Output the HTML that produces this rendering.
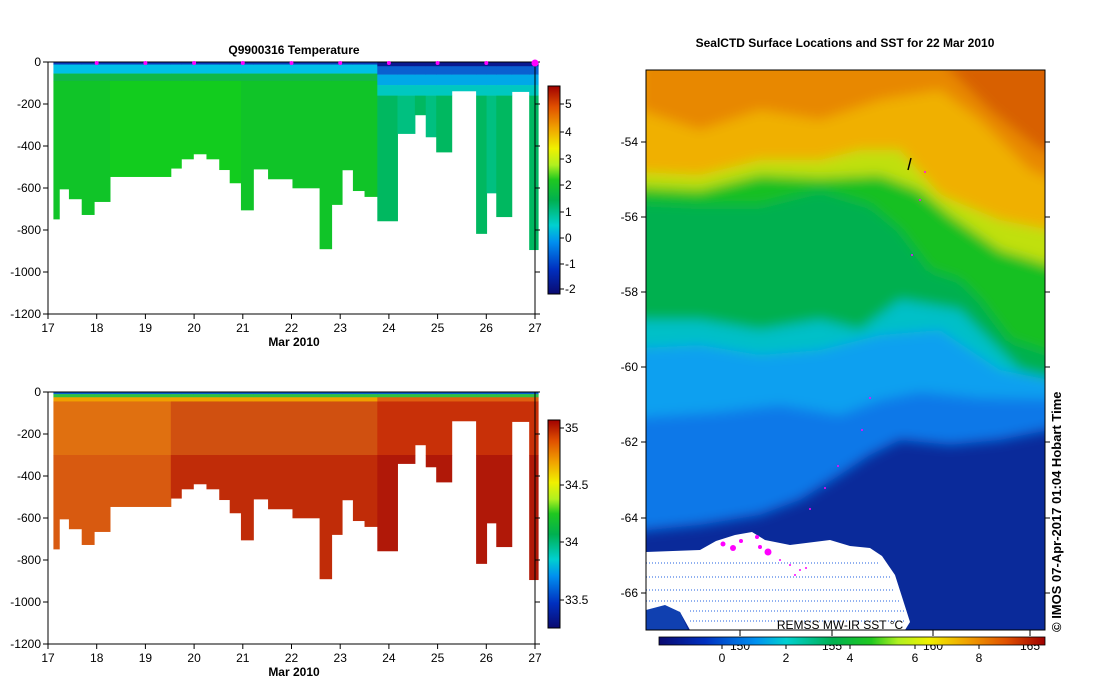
<!DOCTYPE html>
<html><head><meta charset="utf-8"><style>
html,body{margin:0;padding:0;background:#fff;}
svg{display:block;font-family:"Liberation Sans",sans-serif;}
</style></head><body>
<svg id="s" width="1099" height="700" viewBox="0 0 1099 700" xmlns="http://www.w3.org/2000/svg">
<defs>
<linearGradient id="tcb" x1="0" y1="1" x2="0" y2="0">
<stop offset="0" stop-color="#0a0a70"/><stop offset="0.12" stop-color="#0030c0"/><stop offset="0.25" stop-color="#0090f0"/><stop offset="0.33" stop-color="#00d0d0"/><stop offset="0.45" stop-color="#00b050"/><stop offset="0.55" stop-color="#20c820"/><stop offset="0.62" stop-color="#b0f020"/><stop offset="0.7" stop-color="#f0f000"/><stop offset="0.8" stop-color="#f0a000"/><stop offset="0.9" stop-color="#e05000"/><stop offset="1" stop-color="#a00000"/>
</linearGradient>
<linearGradient id="scb" x1="0" y1="1" x2="0" y2="0">
<stop offset="0" stop-color="#0a0a70"/><stop offset="0.12" stop-color="#0030c0"/><stop offset="0.25" stop-color="#0090f0"/><stop offset="0.33" stop-color="#00d0d0"/><stop offset="0.45" stop-color="#00b050"/><stop offset="0.55" stop-color="#20c820"/><stop offset="0.62" stop-color="#b0f020"/><stop offset="0.7" stop-color="#f0f000"/><stop offset="0.8" stop-color="#f0a000"/><stop offset="0.9" stop-color="#e05000"/><stop offset="1" stop-color="#a00000"/>
</linearGradient>
<linearGradient id="mcb" x1="0" y1="0" x2="1" y2="0">
<stop offset="0" stop-color="#0a0a70"/><stop offset="0.12" stop-color="#0030c0"/><stop offset="0.25" stop-color="#0090f0"/><stop offset="0.33" stop-color="#00d0d0"/><stop offset="0.45" stop-color="#00b050"/><stop offset="0.55" stop-color="#20c820"/><stop offset="0.62" stop-color="#b0f020"/><stop offset="0.7" stop-color="#f0f000"/><stop offset="0.8" stop-color="#f0a000"/><stop offset="0.9" stop-color="#e05000"/><stop offset="1" stop-color="#a00000"/>
</linearGradient>
<clipPath id="mapc"><rect x="646" y="70" width="399" height="560"/></clipPath>
<filter id="bl"><feGaussianBlur stdDeviation="6"/></filter>
</defs>
<g id="left"></g>
<!-- titles -->
<text x="294" y="54" font-size="12" font-weight="bold" text-anchor="middle">Q9900316  Temperature</text>
<text x="845" y="47" font-size="12" font-weight="bold" text-anchor="middle">SealCTD Surface Locations and SST for 22 Mar 2010</text>
<!-- map -->
<g clip-path="url(#mapc)">
<rect x="646" y="70" width="399" height="560" fill="#0a2a9a"/>
<g filter="url(#bl)">
<path d="M600,40 H1100 V420 L1000,440 L950,445 L900,440 L870,455 L840,475 L800,500 L760,515 L700,525 L600,535Z" fill="#0a78e8"/>
<path d="M600,40 H1100 V400 L980,398 L920,392 L880,400 L840,415 L780,405 L720,412 L600,420Z" fill="#0aa0f0"/>
<path d="M600,40 H1100 V390 L1000,370 L940,330 L880,335 L820,350 L760,355 L700,345 L600,350Z" fill="#00c0c8"/>
<path d="M600,40 H1100 V390 L1020,370 L960,310 L900,300 L860,330 L820,320 L760,330 L700,320 L600,320Z" fill="#00b050"/>
<path d="M600,40 H1100 V370 L1010,340 L980,300 L960,280 L930,270 L900,230 L870,205 L820,190 L760,205 L700,205 L600,200Z" fill="#18c020"/>
<path d="M600,40 H1100 V280 L1000,250 L950,215 L920,190 L880,175 L820,178 L760,175 L700,190 L600,185Z" fill="#c0e010"/>
<path d="M600,40 H1100 V240 L1000,220 L940,195 L900,150 L860,150 L820,160 L760,160 L700,175 L600,170Z" fill="#f0b000"/>
<path d="M640,60 H1100 V200 L1030,170 L980,120 L940,90 L880,100 L820,120 L760,110 L700,130 L640,110Z" fill="#e88800"/>
<path d="M940,60 H1100 V160 L1040,150 L990,110 Z" fill="#d86000"/>
</g>
<path d="M646,552 L700,550 L716,541 L735,535 L752,532 L765,540 L790,545 L830,540 L850,546 L870,548 L882,556 L895,575 L903,600 L910,622 L905,630 L690,630 L680,612 L660,608 L646,615Z" fill="#fff"/>
<path d="M646,610 L665,605 L680,612 L688,630 L646,630Z" fill="#1040b0"/>
<g stroke="#2060e0" stroke-width="1" stroke-dasharray="1,2">
<line x1="646" y1="563" x2="880" y2="563"/><line x1="646" y1="577" x2="890" y2="577"/><line x1="646" y1="590" x2="895" y2="590"/><line x1="646" y1="601" x2="900" y2="601"/><line x1="690" y1="611" x2="905" y2="611"/><line x1="690" y1="621" x2="905" y2="621"/>
</g>
<g fill="#ff00ff">
<circle cx="723" cy="544" r="2.5"/><circle cx="733" cy="548" r="3"/><circle cx="741" cy="541" r="2"/><circle cx="757" cy="537" r="2"/><circle cx="760" cy="547" r="2"/><circle cx="768" cy="552" r="3.5"/>
<circle cx="780" cy="560" r="1"/><circle cx="790" cy="565" r="1"/><circle cx="800" cy="570" r="1"/><circle cx="795" cy="575" r="1"/><circle cx="806" cy="568" r="1"/><circle cx="810" cy="509" r="1"/><circle cx="825" cy="488" r="1"/><circle cx="838" cy="466" r="1"/><circle cx="862" cy="430" r="1"/><circle cx="870" cy="398" r="1"/><circle cx="912" cy="255" r="1"/><circle cx="920" cy="200" r="1"/><circle cx="925" cy="172" r="1"/>
</g>
<line x1="908" y1="170" x2="911" y2="158" stroke="#000" stroke-width="1.5"/>
<text x="840" y="629" font-size="12" text-anchor="middle">REMSS MW-IR SST °C</text>
</g>
<rect x="646" y="70" width="399" height="560" fill="none" stroke="#000"/>
<g id="mapax" font-size="12"></g>
<rect x="659" y="637" width="386" height="8" fill="url(#mcb)" stroke="#000" stroke-width="0.8"/>
<text transform="translate(1061,632) rotate(-90)" font-size="13" font-weight="bold">© IMOS 07-Apr-2017 01:04 Hobart Time</text>
</svg>
<script>
var S="http://www.w3.org/2000/svg";
function el(p,t,a,txt){var e=document.createElementNS(S,t);for(var k in a)e.setAttribute(k,a[k]);if(txt!==undefined)e.textContent=txt;p.appendChild(e);return e;}
var L=document.getElementById('left');
var xs=[157,172,197,230,262,303,460,487,518,552,585,612,641,673,711,774,844,875,902,930,960,993,1045,1090,1118,1145,1185,1248,1275,1300,1340,1385,1408];
var bots=[748,605,652,727,665,546,506,462,438,462,513,576,705,510,557,600,890,679,514,613,641,757,341,252,357,429,138,817,624,737,141,894];
function zx(x){return 48+(x-143)*(535-48)/(1400-143);}
function panel(y0,isT){
 var h=252; function Y(m){return y0+m/1200*h;}
 for(var i=0;i<bots.length;i++){
  var x0=zx(xs[i]),x1=zx(xs[i+1]),w=x1-x0+0.5,b=bots[i],right=xs[i]>=993;
  var bands;
  if(isT){
   if(!right) bands=[[0,12,"#0a3ab8"],[12,55,"#00c0e8"],[55,90,"#10b848"],[90,b,(i>=5&&i<12)?"#12cc1e":"#10c428"]];
   else bands=[[0,20,"#0a1a90"],[20,60,"#0a60d0"],[60,110,"#00a8e8"],[110,160,"#00c8c0"],[160,b,(i%2?"#00b860":"#00c080")]];
  } else {
   var c1=right?"#c83008":(i<6?"#e07010":"#d05010"),c2=right?"#b01808":(i<6?"#d85a10":"#c02c08");
   bands=[[0,10,"#0a60d0"],[10,25,"#30c040"],[25,45,right?"#e06010":"#f0a000"],[45,300,c1],[300,b,c2]];
  }
  bands.forEach(function(bd){var a=bd[0],c=Math.min(bd[1],b);if(c>a)el(L,'rect',{x:x0,y:Y(a),width:w,height:Y(c)-Y(a)+0.3,fill:bd[2]});});
 }
 el(L,'rect',{x:48,y:y0,width:487,height:h,fill:'none',stroke:'#000'});
 for(var d=0;d<=6;d++){var m=d*200,yy=Y(m);el(L,'line',{x1:43,y1:yy,x2:48,y2:yy,stroke:'#000'});el(L,'line',{x1:535,y1:yy,x2:540,y2:yy,stroke:'#000'});el(L,'text',{x:41,y:yy+4,'font-size':12,'text-anchor':'end'},m==0?"0":"-"+m);}
 for(var k=0;k<=10;k++){var xx=48+k*48.7;el(L,'line',{x1:xx,y1:y0+h,x2:xx,y2:y0+h+5,stroke:'#000'});el(L,'text',{x:xx,y:y0+h+18,'font-size':12,'text-anchor':'middle'},String(17+k));
  if(isT&&k>0)el(L,'circle',{cx:xx,cy:y0+1,r:k==10?3.5:2,fill:'#ff00ff'});}
 el(L,'text',{x:294,y:y0+h+32,'font-size':12,'font-weight':'bold','text-anchor':'middle'},'Mar 2010');
 var cy0=isT?86:420,ch=208;
 el(L,'rect',{x:548,y:cy0,width:12,height:ch,fill:isT?'url(#tcb)':'url(#scb)',stroke:'#000'});
 var labs=isT?[[-2,289],[-1,264],[0,238],[1,212],[2,185],[3,159],[4,132],[5,104]]:[[33.5,600],[34,542],[34.5,485],[35,428]];
 labs.forEach(function(l){el(L,'line',{x1:560,y1:l[1],x2:564,y2:l[1],stroke:'#000'});el(L,'text',{x:565,y:l[1]+4,'font-size':12},String(l[0]));});
}
panel(62,true);panel(392,false);
var M=document.getElementById('mapax');
[[-54,142],[-56,217],[-58,292],[-60,367],[-62,442],[-64,518],[-66,593]].forEach(function(l){
 el(M,'line',{x1:641,y1:l[1],x2:646,y2:l[1],stroke:'#000'});el(M,'line',{x1:1045,y1:l[1],x2:1050,y2:l[1],stroke:'#000'});
 el(M,'text',{x:638,y:l[1]+4,'text-anchor':'end'},String(l[0]));});
[740,832,933,1030].forEach(function(x,i){el(M,'line',{x1:x,y1:630,x2:x,y2:636,stroke:'#000'});el(M,'text',{x:x,y:650,'text-anchor':'middle'},String(150+5*i));});
[[722,0],[786,2],[850,4],[915,6],[979,8]].forEach(function(l){el(M,'line',{x1:l[0],y1:645,x2:l[0],y2:649,stroke:'#000'});el(M,'text',{x:l[0],y:662,'text-anchor':'middle'},String(l[1]));});
</script>
</body></html>
